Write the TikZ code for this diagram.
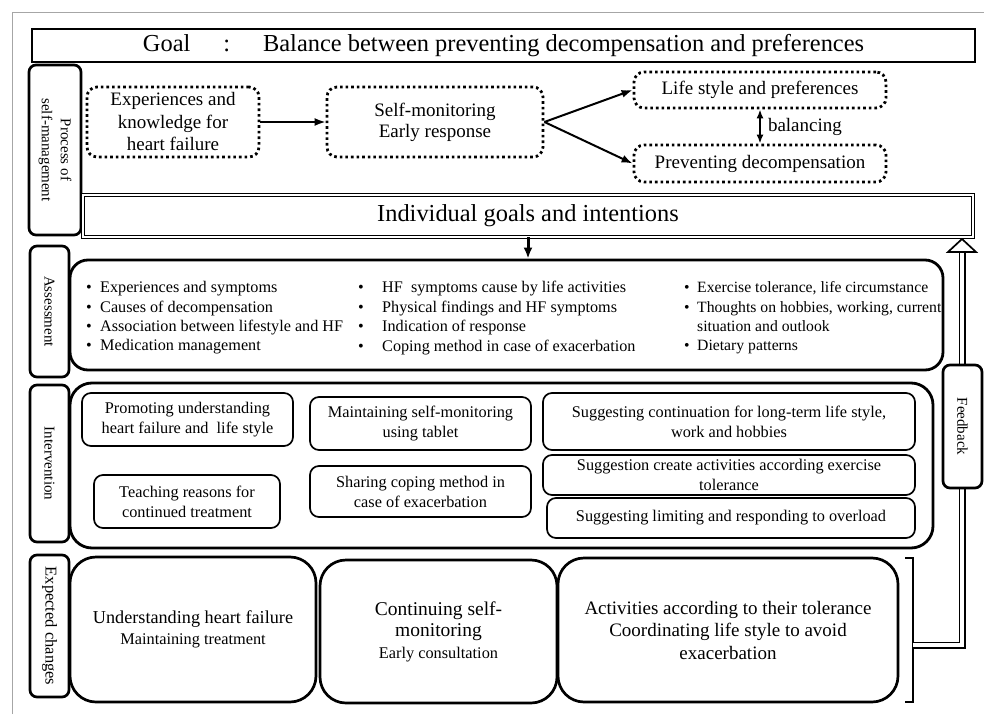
\documentclass[tikz,border=0pt]{standalone}
\usepackage{fontspec}
\setmainfont{Liberation Serif}
\usetikzlibrary{arrows.meta}
\newcommand\myfs[2]{\fontsize{#1}{#2}\selectfont}
\begin{document}
\begin{tikzpicture}[x=1pt,y=-1pt,
  sidebox/.style={draw, line width=2.7pt, rounded corners=7pt, inner sep=0pt, rotate=-90, align=center, font=\myfs{15}{19}},
  dotbox/.style={draw, line width=2.8pt, dash pattern=on 2.6pt off 3pt, rounded corners=10pt, align=center, font=\myfs{19}{22.5}, inner sep=0pt},
  bigbox/.style={draw, line width=2.8pt, inner sep=0pt},
  ibox/.style={draw, line width=1.7pt, rounded corners=9pt, align=center, font=\myfs{16.3}{20}, inner sep=0pt},
  ebox/.style={draw, line width=2.7pt, rounded corners=26pt, align=center, font=\myfs{19}{22.5}, inner sep=0pt},
  arr/.style={line width=2pt, -{Latex[length=11pt,width=8pt]}},
  bcol/.style={anchor=west, align=left, inner sep=0pt, font=\myfs{16.2}{19.4}}
]
\useasboundingbox (0,0) rectangle (984,714);
\draw[gray!70, line width=0.8pt] (12,714) -- (12,12) -- (984,12);

% goal
\node[draw, line width=2.8pt, minimum width=943pt, minimum height=33pt, inner sep=0pt, font=\myfs{24.4}{28}] (goal) at (503.5,45.5)
  {Goal\hspace{33pt}:\hspace{33pt}Balance between preventing decompensation and preferences};

% side labels
\node[sidebox, minimum width=170pt, minimum height=52pt] (sproc) at (55,150) {Process of\\self-management};
\node[sidebox, minimum width=131pt, minimum height=39pt] (sassess) at (49.5,311.5) {Assessment};
\node[sidebox, minimum width=157pt, minimum height=39pt] (sinter) at (49.5,463.5) {Intervention};
\node[sidebox, minimum width=142pt, minimum height=39pt, font=\myfs{16.5}{19}] (sexp) at (49.5,626) {Expected changes};

% process row
\node[dotbox, minimum width=172pt, minimum height=70pt] (expk) at (173,122) {Experiences and\\knowledge for\\heart failure};
\node[dotbox, minimum width=216pt, minimum height=70pt, font=\myfs{19}{21}] (selfmon) at (435,122) {Self-monitoring\\Early response};
\node[dotbox, minimum width=252pt, minimum height=36pt] (life) at (760,90) {Life style and preferences};
\node[dotbox, minimum width=252pt, minimum height=37pt] (prev) at (760,163.5) {Preventing decompensation};
\draw[arr] (expk) -- (selfmon);
\draw[arr] (selfmon.east) -- (life.west);
\draw[arr] (selfmon.east) -- (prev.west);
\draw[line width=2pt, {Latex[length=9pt,width=7pt]}-{Latex[length=9pt,width=7pt]}] (life) -- (prev)
  node[midway, right=7pt, inner sep=0pt, font=\myfs{19}{22}] (bal) {balancing};

% individual goals
\node[draw, double, double distance=2.2pt, line width=0.9pt, minimum width=890pt, minimum height=42pt, inner sep=0pt, font=\myfs{24.4}{28}] (indiv) at (528,216) {Individual goals and intentions};

% assessment
\node[bigbox, rounded corners=18pt, minimum width=873pt, minimum height=110pt] (assess) at (506.5,315) {};
\draw[line width=3pt, -{Latex[length=11pt,width=9pt]}] (indiv.south) -- (indiv.south |- assess.north);
\node[bcol] (col1) at (86,318) {\makebox[14pt][l]{\textbullet}Experiences and symptoms\\
  \makebox[14pt][l]{\textbullet}Causes of decompensation\\
  \makebox[14pt][l]{\textbullet}Association between lifestyle and HF\\
  \makebox[14pt][l]{\textbullet}Medication management};
\node[bcol] (col2) at (358,318) {\makebox[24pt][l]{\textbullet}HF \ symptoms cause by life activities\\
  \makebox[24pt][l]{\textbullet}Physical findings and HF symptoms\\
  \makebox[24pt][l]{\textbullet}Indication of response\\
  \makebox[24pt][l]{\textbullet}Coping method in case of exacerbation};
\node[bcol, font=\myfs{15.7}{19.4}] (col3) at (684,318) {\makebox[13pt][l]{\textbullet}Exercise tolerance, life circumstance\\
  \makebox[13pt][l]{\textbullet}Thoughts on hobbies, working, current\\
  \makebox[13pt][l]{}situation and outlook\\
  \makebox[13pt][l]{\textbullet}Dietary patterns};

% intervention
\node[bigbox, rounded corners=22pt, minimum width=863pt, minimum height=165pt] (interv) at (501.5,465.5) {};
\node[ibox, minimum width=211pt, minimum height=53pt] (i1) at (187.5,419.5) {Promoting understanding\\heart failure and \ life style};
\node[ibox, minimum width=186pt, minimum height=53pt] (i2) at (187,501.5) {Teaching reasons for\\continued treatment};
\node[ibox, minimum width=221pt, minimum height=53pt] (i3) at (420.5,423.5) {Maintaining self-monitoring\\using tablet};
\node[ibox, minimum width=221pt, minimum height=51pt] (i4) at (420.5,491.5) {Sharing coping method in\\case of exacerbation};
\node[ibox, minimum width=372pt, minimum height=57pt] (i5) at (729,421.5) {Suggesting continuation for long-term life style,\\work and hobbies};
\node[ibox, minimum width=372pt, minimum height=40pt] (i6) at (729,475) {Suggestion create activities according exercise\\tolerance};
\node[ibox, minimum width=368pt, minimum height=40pt] (i7) at (731,518) {Suggesting limiting and responding to overload};

% expected changes
\node[ebox, minimum width=246pt, minimum height=145pt, font=\myfs{18.2}{20.5}] (e1) at (193,629.5) {Understanding heart failure\\{\myfs{16.3}{20}Maintaining treatment}};
\node[ebox, minimum width=237pt, minimum height=143pt, font=\myfs{19.5}{21.5}] (e2) at (438.5,631.5) {Continuing self-\\monitoring\\{\myfs{16.3}{20}Early consultation}};
\node[ebox, minimum width=340pt, minimum height=144pt] (e3) at (728,630) {Activities according to their tolerance\\Coordinating life style to avoid\\exacerbation};

% bracket and feedback
\draw[line width=2.7pt] (905,558) -- (913,558) -- (913,702) -- (905,702);
\coordinate (fbs) at (913,645);
\coordinate (fbtop) at (962,252);
\draw[double, double distance=3.4pt, line width=1.8pt] (fbs) -| (fbtop);
\draw[line width=1.7pt, fill=white, line join=miter] (948,252) -- (962,239) -- (976,252) -- cycle;
\node[sidebox, fill=white, minimum width=123pt, minimum height=39pt] (fb) at (962.5,426.5) {Feedback};
\end{tikzpicture}
\end{document}
